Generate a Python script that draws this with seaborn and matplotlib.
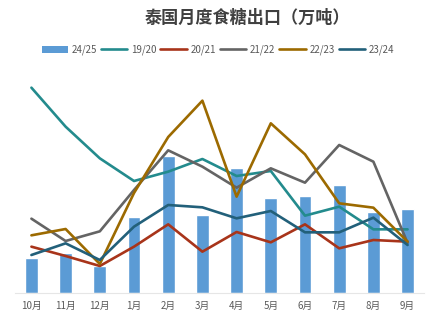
import matplotlib
matplotlib.use("Agg")
import matplotlib.pyplot as plt
import seaborn as sns
import pandas as pd
import numpy as np
from matplotlib.patches import Patch
from matplotlib.lines import Line2D

sns.set_theme(style="white")
plt.rcParams['font.family'] = ['Noto Sans CJK SC', 'DejaVu Sans']

months = ["10月", "11月", "12月", "1月", "2月", "3月", "4月", "5月", "6月", "7月", "8月", "9月"]
s2425 = [21.0, 24.0, 16.4, 45.8, 82.4, 46.8, 75.2, 57.2, 58.4, 65.0, 48.8, 50.4]
s1920 = [123.2, 99.8, 80.8, 67.2, 72.8, 80.4, 70.2, 73.2, 46.4, 51.8, 38.2, 38.2]
s2021 = [27.8, 22.2, 16.2, 27.8, 41.2, 24.8, 36.6, 30.4, 41.2, 26.8, 31.8, 30.8]
s2122 = [44.6, 31.2, 37.0, 61.8, 85.6, 75.8, 63.2, 74.8, 66.2, 88.8, 78.8, 30.0]
s2223 = [34.6, 38.4, 17.4, 60.0, 93.6, 115.4, 57.8, 101.8, 83.2, 53.8, 51.2, 30.8]
s2324 = [22.8, 29.8, 19.8, 39.8, 52.8, 51.4, 44.8, 49.2, 36.4, 36.4, 45.2, 28.8]

series = {"19/20": s1920, "20/21": s2021, "21/22": s2122, "22/23": s2223, "23/24": s2324}
colors = {"19/20": "#238b8d", "20/21": "#a8341a", "21/22": "#646464",
          "22/23": "#9c6a00", "23/24": "#22607a"}

fig = plt.figure(figsize=(4.39, 3.23), dpi=100)
ax = fig.add_axes([15/439, 30/323, 409/439, 218/323])

df = pd.DataFrame({"month": months, "v": s2425})
sns.barplot(data=df, x="month", y="v", ax=ax, color="#5b9bd5", width=0.37,
            saturation=1, order=months)

for name, vals in series.items():
    d = pd.DataFrame({"month": months, "v": vals})
    sns.lineplot(data=d, x="month", y="v", ax=ax, color=colors[name], linewidth=1.9,
                 sort=False, zorder=3)

ax.set_xlim(-0.48, 11.48)
ax.set_ylim(0, 130.8)
ax.set_xlabel("")
ax.set_ylabel("")
ax.set_yticks([])
for s in ["top", "right", "left"]:
    ax.spines[s].set_visible(False)
ax.spines["bottom"].set_color("#e6e6e6")
ax.spines["bottom"].set_linewidth(0.8)
ax.tick_params(axis="x", length=0, pad=6, labelsize=7, labelcolor="#595959")

fig.text(247/439, 1 - 18/323, "泰国月度食糖出口（万吨）", ha="center", va="center",
         fontsize=12.3, fontweight="bold", color="#404040")

handles = [Patch(facecolor="#5b9bd5", edgecolor="none", label="24/25")]
for name in series:
    handles.append(Line2D([0], [0], color=colors[name], linewidth=1.9, label=name))
fig.legend(handles=handles, loc="center", bbox_to_anchor=(218/439, 1 - 50/323), ncol=6,
           frameon=False, fontsize=7, handlelength=2.7, handletextpad=0.4,
           columnspacing=0.4, labelcolor="#595959", handleheight=0.7)

fig.savefig("out.png", dpi=100)
